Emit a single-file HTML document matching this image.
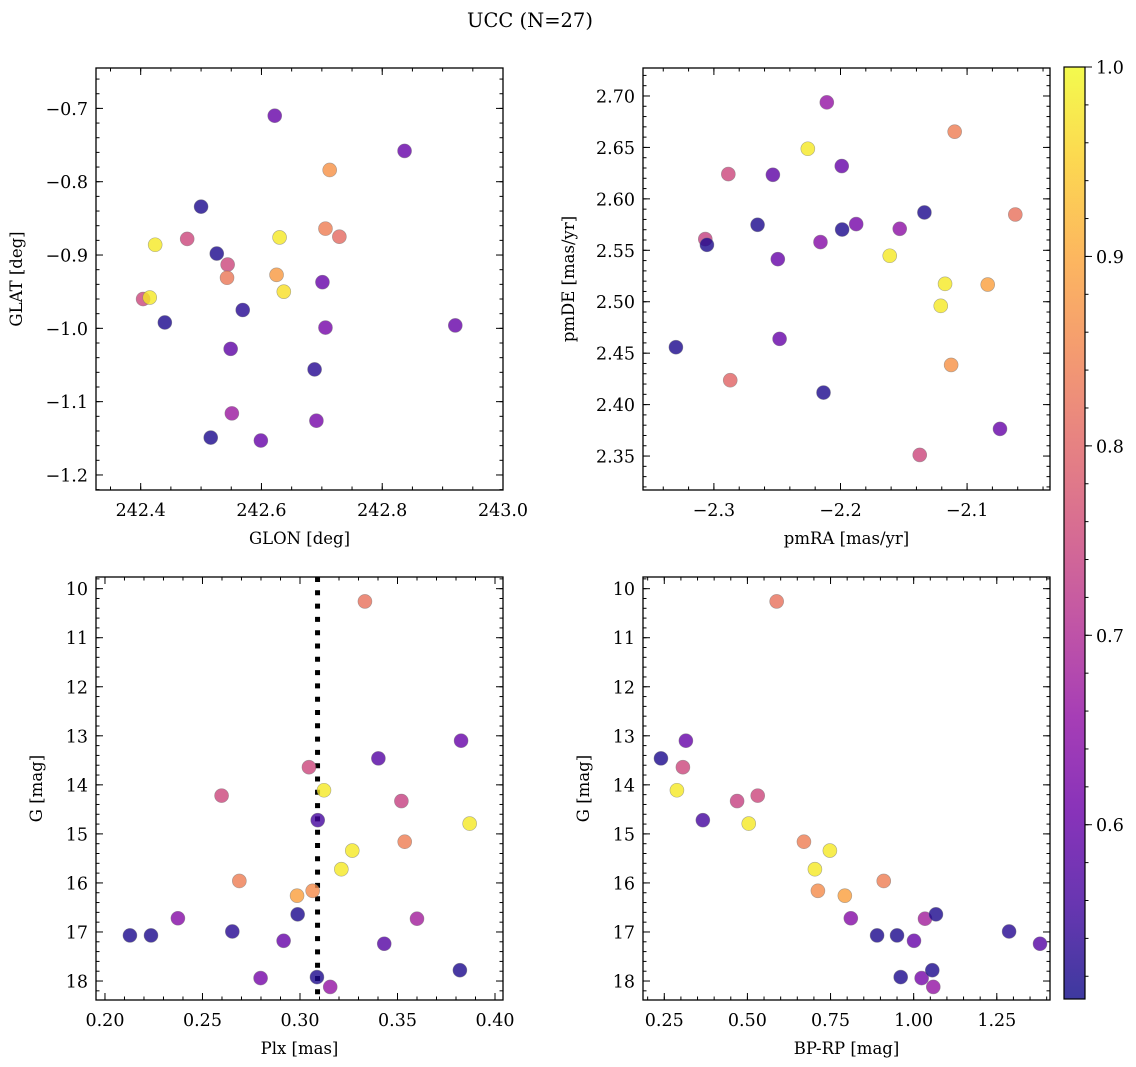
<!DOCTYPE html>
<html><head><meta charset="utf-8">
<style>
html,body{margin:0;padding:0;background:#fff;}
svg{display:block;font-family:"DejaVu Serif","Liberation Serif",serif;}
</style></head>
<body>
<svg id="fig" width="1136" height="1067" viewBox="0 0 1136 1067" xmlns="http://www.w3.org/2000/svg">
<text x="530" y="27" text-anchor="middle" font-size="19.5">UCC (N=27)</text>
</svg>
<script>
// ---- data: top-left (GLON vs GLAT)
const tlGlon = [242.622,242.837,242.713,242.500,242.424,242.477,242.630,242.706,242.729,242.526,242.544,242.625,242.543,242.637,242.701,242.404,242.415,242.569,242.440,242.706,242.921,242.549,242.688,242.551,242.691,242.516,242.599];
const tlGlat = [-0.710,-0.758,-0.784,-0.834,-0.886,-0.878,-0.876,-0.864,-0.875,-0.898,-0.913,-0.927,-0.931,-0.950,-0.937,-0.960,-0.958,-0.975,-0.992,-0.999,-0.996,-1.028,-1.056,-1.116,-1.126,-1.149,-1.153];
const tlProb = [0.60,0.60,0.87,0.52,0.98,0.75,0.98,0.84,0.81,0.52,0.75,0.88,0.83,0.97,0.60,0.75,0.98,0.53,0.52,0.62,0.60,0.59,0.53,0.67,0.62,0.52,0.60];
// ---- data: top-right (pmRA vs pmDE)
const trPmra = [-2.2108,-2.1098,-2.2258,-2.2886,-2.2534,-2.1990,-2.1337,-2.0619,-2.2655,-2.1987,-2.1876,-2.1532,-2.3068,-2.3055,-2.2158,-2.2495,-2.1611,-2.1174,-2.0837,-2.1208,-2.3300,-2.2481,-2.2871,-2.1126,-2.2134,-2.0740,-2.1374];
const trPmde = [2.6938,2.6653,2.6487,2.6241,2.6234,2.6319,2.5868,2.5848,2.5748,2.5702,2.5755,2.5709,2.5609,2.5553,2.5580,2.5414,2.5447,2.5174,2.5167,2.4960,2.4558,2.4639,2.4237,2.4386,2.4117,2.3764,2.3511];
const trProb = [0.66,0.84,0.98,0.75,0.59,0.60,0.52,0.82,0.52,0.52,0.62,0.65,0.74,0.52,0.64,0.60,0.98,0.98,0.89,0.98,0.52,0.60,0.80,0.87,0.52,0.60,0.75];
// ---- data: bottom-left (Plx vs G)
const blPlx = [0.3333,0.3826,0.3402,0.3046,0.2598,0.3123,0.3520,0.3091,0.3870,0.3537,0.3268,0.3212,0.2689,0.3065,0.2985,0.2988,0.2374,0.3600,0.2128,0.2236,0.2653,0.2916,0.3432,0.3820,0.2798,0.3087,0.3155];
const blG = [10.26,13.10,13.46,13.64,14.22,14.11,14.33,14.72,14.79,15.16,15.34,15.72,15.96,16.16,16.26,16.64,16.72,16.73,17.07,17.07,16.99,17.18,17.24,17.78,17.94,17.92,18.12];
const blProb = [0.82,0.60,0.58,0.75,0.75,0.98,0.74,0.56,0.98,0.84,0.98,0.98,0.84,0.86,0.89,0.52,0.64,0.68,0.52,0.52,0.53,0.60,0.58,0.52,0.62,0.52,0.66];
const plxLine = [0.309];
// ---- data: bottom-right (BP-RP vs G)
const brBprp = [0.588,0.240,0.306,0.288,0.315,0.366,0.469,0.531,0.504,0.670,0.748,0.703,0.712,0.793,0.910,0.811,0.890,0.950,1.001,1.034,1.067,0.961,1.024,1.056,1.059,1.287,1.380];
const brG = [10.26,13.46,13.64,14.11,13.10,14.72,14.33,14.22,14.79,15.16,15.34,15.72,16.16,16.26,15.96,16.72,17.07,17.07,17.18,16.73,16.64,17.92,17.94,17.78,18.12,16.99,17.24];
const brProb = [0.82,0.52,0.75,0.98,0.60,0.56,0.74,0.75,0.98,0.84,0.98,0.98,0.86,0.89,0.84,0.64,0.52,0.52,0.60,0.68,0.52,0.52,0.62,0.52,0.66,0.53,0.58];
// ---- tick labels
const tlXTicks = [242.4,242.6,242.8,243.0];
const tlYTicks = [-0.7,-0.8,-0.9,-1.0,-1.1,-1.2];
const trXTicks = [-2.3,-2.2,-2.1];
const trYTicks = [2.70,2.65,2.60,2.55,2.50,2.45,2.40,2.35];
const blXTicks = [0.20,0.25,0.30,0.35,0.40];
const gTicks = [10,11,12,13,14,15,16,17,18];
const brXTicks = [0.25,0.50,0.75,1.00,1.25];
const cbTicks = [0.6,0.7,0.8,0.9,1.0];

const NS = "http://www.w3.org/2000/svg";
const svg = document.getElementById('fig');
const VMIN = 0.508, VMAX = 1.0;
const plasma = [[13,8,135],[65,4,157],[106,0,168],[143,13,164],[177,42,144],[204,71,120],[225,100,98],[242,132,75],[252,166,54],[252,206,37],[240,249,33]];
function cmap(t){t=Math.max(0,Math.min(1,t));const f=t*10,i=Math.min(9,Math.floor(f)),r=f-i;
  const a=plasma[i],b=plasma[i+1];return 'rgb('+a.map((v,k)=>Math.round(v+(b[k]-v)*r)).join(',')+')';}
function mk(tag,attrs,parent){const e=document.createElementNS(NS,tag);for(const k in attrs)e.setAttribute(k,attrs[k]);(parent||svg).appendChild(e);return e;}
function fmt(v,d){return (v<0?'\u2212':'')+Math.abs(v).toFixed(d);}

function panel(o){
  const g=mk('g',{});
  
  
  const L=o.x0,R=o.x1,T=o.y0,B=o.y1;
  const sx=v=>L+(v-o.xmin)/(o.xmax-o.xmin)*(R-L);
  const sy=o.yinv? (v=>T+(v-o.ymin)/(o.ymax-o.ymin)*(B-T)) : (v=>B-(v-o.ymin)/(o.ymax-o.ymin)*(B-T));
  const tg=mk('g',{stroke:'#000','stroke-width':1},g);
  
  
  function ticksX(step,len){const s=Math.ceil(o.xmin/step-1e-6);for(let k=s;k*step<=o.xmax+1e-9;k++){const x=sx(k*step);
    mk('line',{x1:x,x2:x,y1:B,y2:B-len},tg);mk('line',{x1:x,x2:x,y1:T,y2:T+len},tg);}}
  function ticksY(step,len){const lo=Math.min(o.ymin,o.ymax),hi=Math.max(o.ymin,o.ymax);const s=Math.ceil(lo/step-1e-6);for(let k=s;k*step<=hi+1e-9;k++){const y=sy(k*step);
    mk('line',{x1:L,x2:L+len,y1:y,y2:y},tg);mk('line',{x1:R,x2:R-len,y1:y,y2:y},tg);}}
  ticksX(o.xminor,3.5);ticksY(o.yminor,3.5);ticksX(o.xmajor,7);ticksY(o.ymajor,7);
  if(o.vline!==undefined){const x=sx(o.vline);const l=mk('line',{x1:x,x2:x,y1:T,y2:B,stroke:'#000','stroke-width':5,'stroke-dasharray':'5 8.3'},g);
    
    }
  for(let i=0;i<o.xs.length;i++){
    const c=mk('circle',{cx:sx(o.xs[i]),cy:sy(o.ys[i]),r:7,fill:cmap((o.ps[i]-VMIN)/(VMAX-VMIN)),'fill-opacity':0.8,stroke:'#777','stroke-opacity':0.6,'stroke-width':0.6},g);
    
    
  }
  const fr=mk('rect',{x:L,y:T,width:R-L,height:B-T,fill:'none',stroke:'#000','stroke-width':1.3},g);
  
  
  o.xt.forEach(v=>{const t=mk('text',{x:sx(v),y:B+26,'text-anchor':'middle','font-size':17.5},g);t.textContent=fmt(v,o.xd);
    
    });
  o.yt.forEach(v=>{const t=mk('text',{x:L-8,y:sy(v)+6.5,'text-anchor':'end','font-size':17.5},g);t.textContent=fmt(v,o.yd);
    
    });
  const xl=mk('text',{x:(L+R)/2,y:B+54,'text-anchor':'middle','font-size':16.5},g);xl.textContent=o.xlab;
  
  
  const yx=o.ylx,yc=(T+B)/2;
  const yl=mk('text',{x:yx,y:yc,'text-anchor':'middle','font-size':16.5,transform:'rotate(-90 '+yx+' '+yc+')'},g);yl.textContent=o.ylab;
  
  
}

panel({name:'glon-glat-panel',x0:96,x1:503,y0:68,y1:490,xmin:242.326,xmax:243.0,ymin:-1.2205,ymax:-0.6449,
  xmajor:0.2,xminor:0.05,ymajor:0.1,yminor:0.02,xt:tlXTicks,yt:tlYTicks,xd:1,yd:1,xs:tlGlon,ys:tlGlat,ps:tlProb,xlab:'GLON [deg]',ylab:'GLAT [deg]',ylx:22});
panel({name:'pm-panel',x0:643,x1:1050,y0:68,y1:490,xmin:-2.356,xmax:-2.0345,ymin:2.317,ymax:2.7272,
  xmajor:0.1,xminor:0.02,ymajor:0.05,yminor:0.01,xt:trXTicks,yt:trYTicks,xd:1,yd:2,xs:trPmra,ys:trPmde,ps:trProb,xlab:'pmRA [mas/yr]',ylab:'pmDE [mas/yr]',ylx:574});
panel({name:'plx-g-panel',x0:96,x1:503,y0:577,y1:1000,xmin:0.1954,xmax:0.4041,ymin:9.762,ymax:18.387,yinv:true,
  xmajor:0.05,xminor:0.01,ymajor:1,yminor:0.2,xt:blXTicks,yt:gTicks,xd:2,yd:0,xs:blPlx,ys:blG,ps:blProb,xlab:'Plx [mas]',ylab:'G [mag]',ylx:42,vline:plxLine[0]});
panel({name:'cmd-panel',x0:643,x1:1050,y0:577,y1:1000,xmin:0.186,xmax:1.410,ymin:9.762,ymax:18.387,yinv:true,
  xmajor:0.25,xminor:0.05,ymajor:1,yminor:0.2,xt:brXTicks,yt:gTicks,xd:2,yd:0,xs:brBprp,ys:brG,ps:brProb,xlab:'BP-RP [mag]',ylab:'G [mag]',ylx:589});

(function(){
  const L=1064,R=1085,T=67,B=999;
  const defs=mk('defs',{});const lg=mk('linearGradient',{id:'cbg',x1:0,y1:1,x2:0,y2:0},defs);
  for(let i=0;i<=20;i++){mk('stop',{offset:(i/20),'stop-color':cmap(i/20)},lg);}
  const g=mk('g',{});
  
  
  mk('rect',{x:L,y:T,width:R-L,height:B-T,fill:'url(#cbg)','fill-opacity':0.8},g);
  mk('rect',{x:L,y:T,width:R-L,height:B-T,fill:'none',stroke:'#000','stroke-width':1.2},g);
  const sy=v=>B-(v-VMIN)/(VMAX-VMIN)*(B-T);
  for(let k=Math.ceil(VMIN/0.02);k*0.02<=VMAX+1e-9;k++){const y=sy(k*0.02);mk('line',{x1:R,x2:R+3.5,y1:y,y2:y,stroke:'#000'},g);}
  cbTicks.forEach(v=>{const y=sy(v);mk('line',{x1:R,x2:R+7,y1:y,y2:y,stroke:'#000'},g);
    const t=mk('text',{x:R+11,y:y+6.5,'font-size':17.5},g);t.textContent=v.toFixed(1);
    
    });
})();
</script>
</body></html>
